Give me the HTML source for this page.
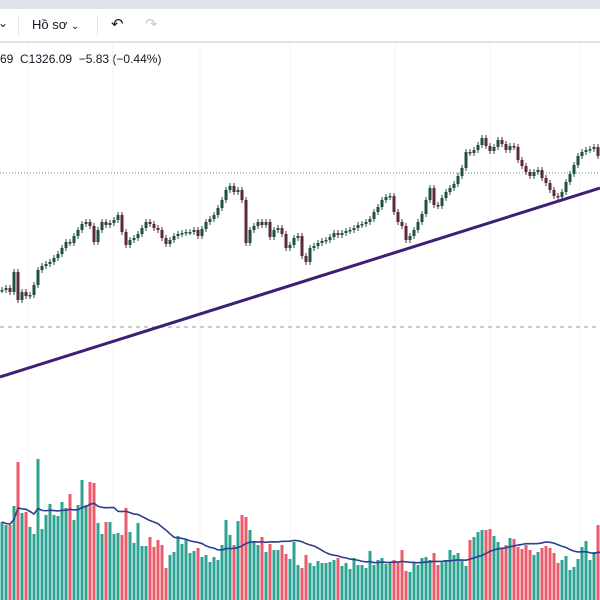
<!DOCTYPE html>
<html><head><meta charset="utf-8"><style>
html,body{margin:0;padding:0;width:600px;height:600px;overflow:hidden;background:#fff;font-family:"Liberation Sans",sans-serif}
#top{position:absolute;left:0;top:0;width:600px;height:9px;background:#e0e3eb}
#toolbar{position:absolute;left:0;top:9px;width:600px;height:32px;background:#fff;border-bottom:2px solid #e0e3eb}
.sep{position:absolute;top:6px;width:1px;height:20px;background:#e0e3eb}
#legend{position:absolute;left:0;top:52px;font-size:12px;color:#131722;white-space:pre}
svg{position:absolute;left:0;top:0}
</style></head><body>
<div id="top"></div>
<div id="toolbar">
 <span style="position:absolute;left:-2px;top:7px;font-size:12px;color:#131722">⌄</span>
 <div class="sep" style="left:18px"></div>
 <span style="position:absolute;left:32px;top:8px;font-size:13px;color:#131722">Hồ sơ <span style="font-size:10px">⌄</span></span>
 <div class="sep" style="left:97px"></div>
 <span style="position:absolute;left:111px;top:6px;font-size:15px;color:#131722">↶</span>
 <span style="position:absolute;left:145px;top:6px;font-size:15px;color:#c8cbd3">↷</span>
</div>
<div id="legend">69  C1326.09  −5.83 (−0.44%)</div>
<svg id="chart" width="600" height="600"></svg>
<script>
const closes=[1268,1269,1267,1277,1263,1267,1265,1265.5,1270.5,1278,1280,1281,1282,1284,1286,1289,1292,1291.5,1295,1298,1301,1302,1300,1292,1298,1302,1300.5,1301.5,1303,1305.5,1297,1290.5,1293,1294,1296,1299,1302,1301,1299,1298,1294,1291,1293,1295,1296,1296.5,1297,1297,1298,1295,1298.5,1302,1303.5,1305.5,1309,1313,1318,1320,1317,1318,1313,1291.5,1298,1300,1302,1300.5,1302,1294.5,1298,1299,1296,1289,1290.5,1294,1295,1285,1282,1289,1290,1291.5,1292.5,1293,1294.5,1296.5,1295.5,1296.5,1297.5,1298,1299,1300.5,1301,1302,1303.5,1307,1309.5,1313,1314.5,1315,1307,1302,1300,1293,1295,1298,1302,1306,1313,1319,1310.5,1310,1314,1317,1319,1321,1325,1329,1337,1336.5,1338,1340.5,1344,1340,1337.5,1339.5,1343,1341,1338,1340,1339.5,1333,1330,1327,1325,1327,1328,1324,1321.5,1318,1315,1314.5,1317,1322,1326,1330.5,1335,1337,1338,1338.5,1339.5,1335];
const volumes=[78,75,75,94,138,87,88,73,66,141,71,85,96,85,84,98,92,106,80,95,120,95,118,117,77,66,78,78,66,67,65,92,68,57,77,54,54,63,53,60,55,32,45,48,64,56,60,47,49,52,43,45,38,43,40,55,80,65,55,79,85,83,70,58,55,63,48,56,50,50,55,46,41,58,35,32,45,37,34,39,37,37,38,40,42,34,37,31,42,35,35,32,49,35,40,42,36,38,40,38,50,29,28,38,35,42,43,40,47,35,38,40,50,45,47,39,34,60,63,68,70,70,71,64,58,51,55,62,61,53,51,55,50,45,48,52,54,52,47,37,40,44,30,33,41,53,59,40,48,75,50];
const trendStart=1224.5, trendEnd=1319;
const dottedPrice=1326.5, dashedPrice=1249.5;

const NS='http://www.w3.org/2000/svg';
const svg=document.getElementById('chart');
const xOf=i=>2+i*4;
const yOf=p=>(1413-p)*2;
const vY=v=>600-v;
function mk(tag,attrs,parent){const e=document.createElementNS(NS,tag);for(const k in attrs)e.setAttribute(k,attrs[k]);(parent||svg).appendChild(e);return e;}
[28,113,200,290,395,490,580].forEach(x=>{const g=mk('line',{x1:x,x2:x,y1:43,y2:600,stroke:'#f0f3fa','stroke-width':1});

});
const dl=mk('line',{x1:0,x2:600,y1:yOf(dottedPrice),y2:yOf(dottedPrice),stroke:'#4a9a7a','stroke-width':1,'stroke-dasharray':'1 2'});


const da=mk('line',{x1:0,x2:600,y1:yOf(dashedPrice),y2:yOf(dashedPrice),stroke:'#9598a1','stroke-width':1,'stroke-dasharray':'4 4'});


closes.forEach((c,i)=>{const o=i?closes[i-1]:c;const up=c>=o;
const b=mk('rect',{x:xOf(i)-1.5,y:vY(volumes[i]),width:3,height:volumes[i],fill:up?'#2ea394':'#ec5b6b'});

});
let pts=[];volumes.forEach((v,i)=>{const s=volumes.slice(Math.max(0,i-19),i+1);const m=s.reduce((a,b)=>a+b,0)/s.length;pts.push(xOf(i)+','+vY(m));});
const ma=mk('polyline',{points:pts.join(' '),fill:'none',stroke:'#2e3f8f','stroke-width':1.6});


closes.forEach((c,i)=>{const o=i?closes[i-1]:c;const up=c>=o;const col=up?'#1f5044':'#5a2a38';
const hi=Math.max(o,c)+1.5,lo=Math.min(o,c)-1.5;const x=xOf(i);
const w=mk('line',{x1:x,x2:x,y1:yOf(hi),y2:yOf(lo),stroke:col,'stroke-width':1});


const top=yOf(Math.max(o,c));const h=Math.max(1.5,Math.abs(yOf(o)-yOf(c)));
const r=mk('rect',{x:x-1.5,y:top,width:3,height:h,fill:col});

});
const t=mk('line',{x1:0,y1:yOf(trendStart),x2:600,y2:yOf(trendEnd),stroke:'#3d1f78','stroke-width':3});


</script>
</body></html>
